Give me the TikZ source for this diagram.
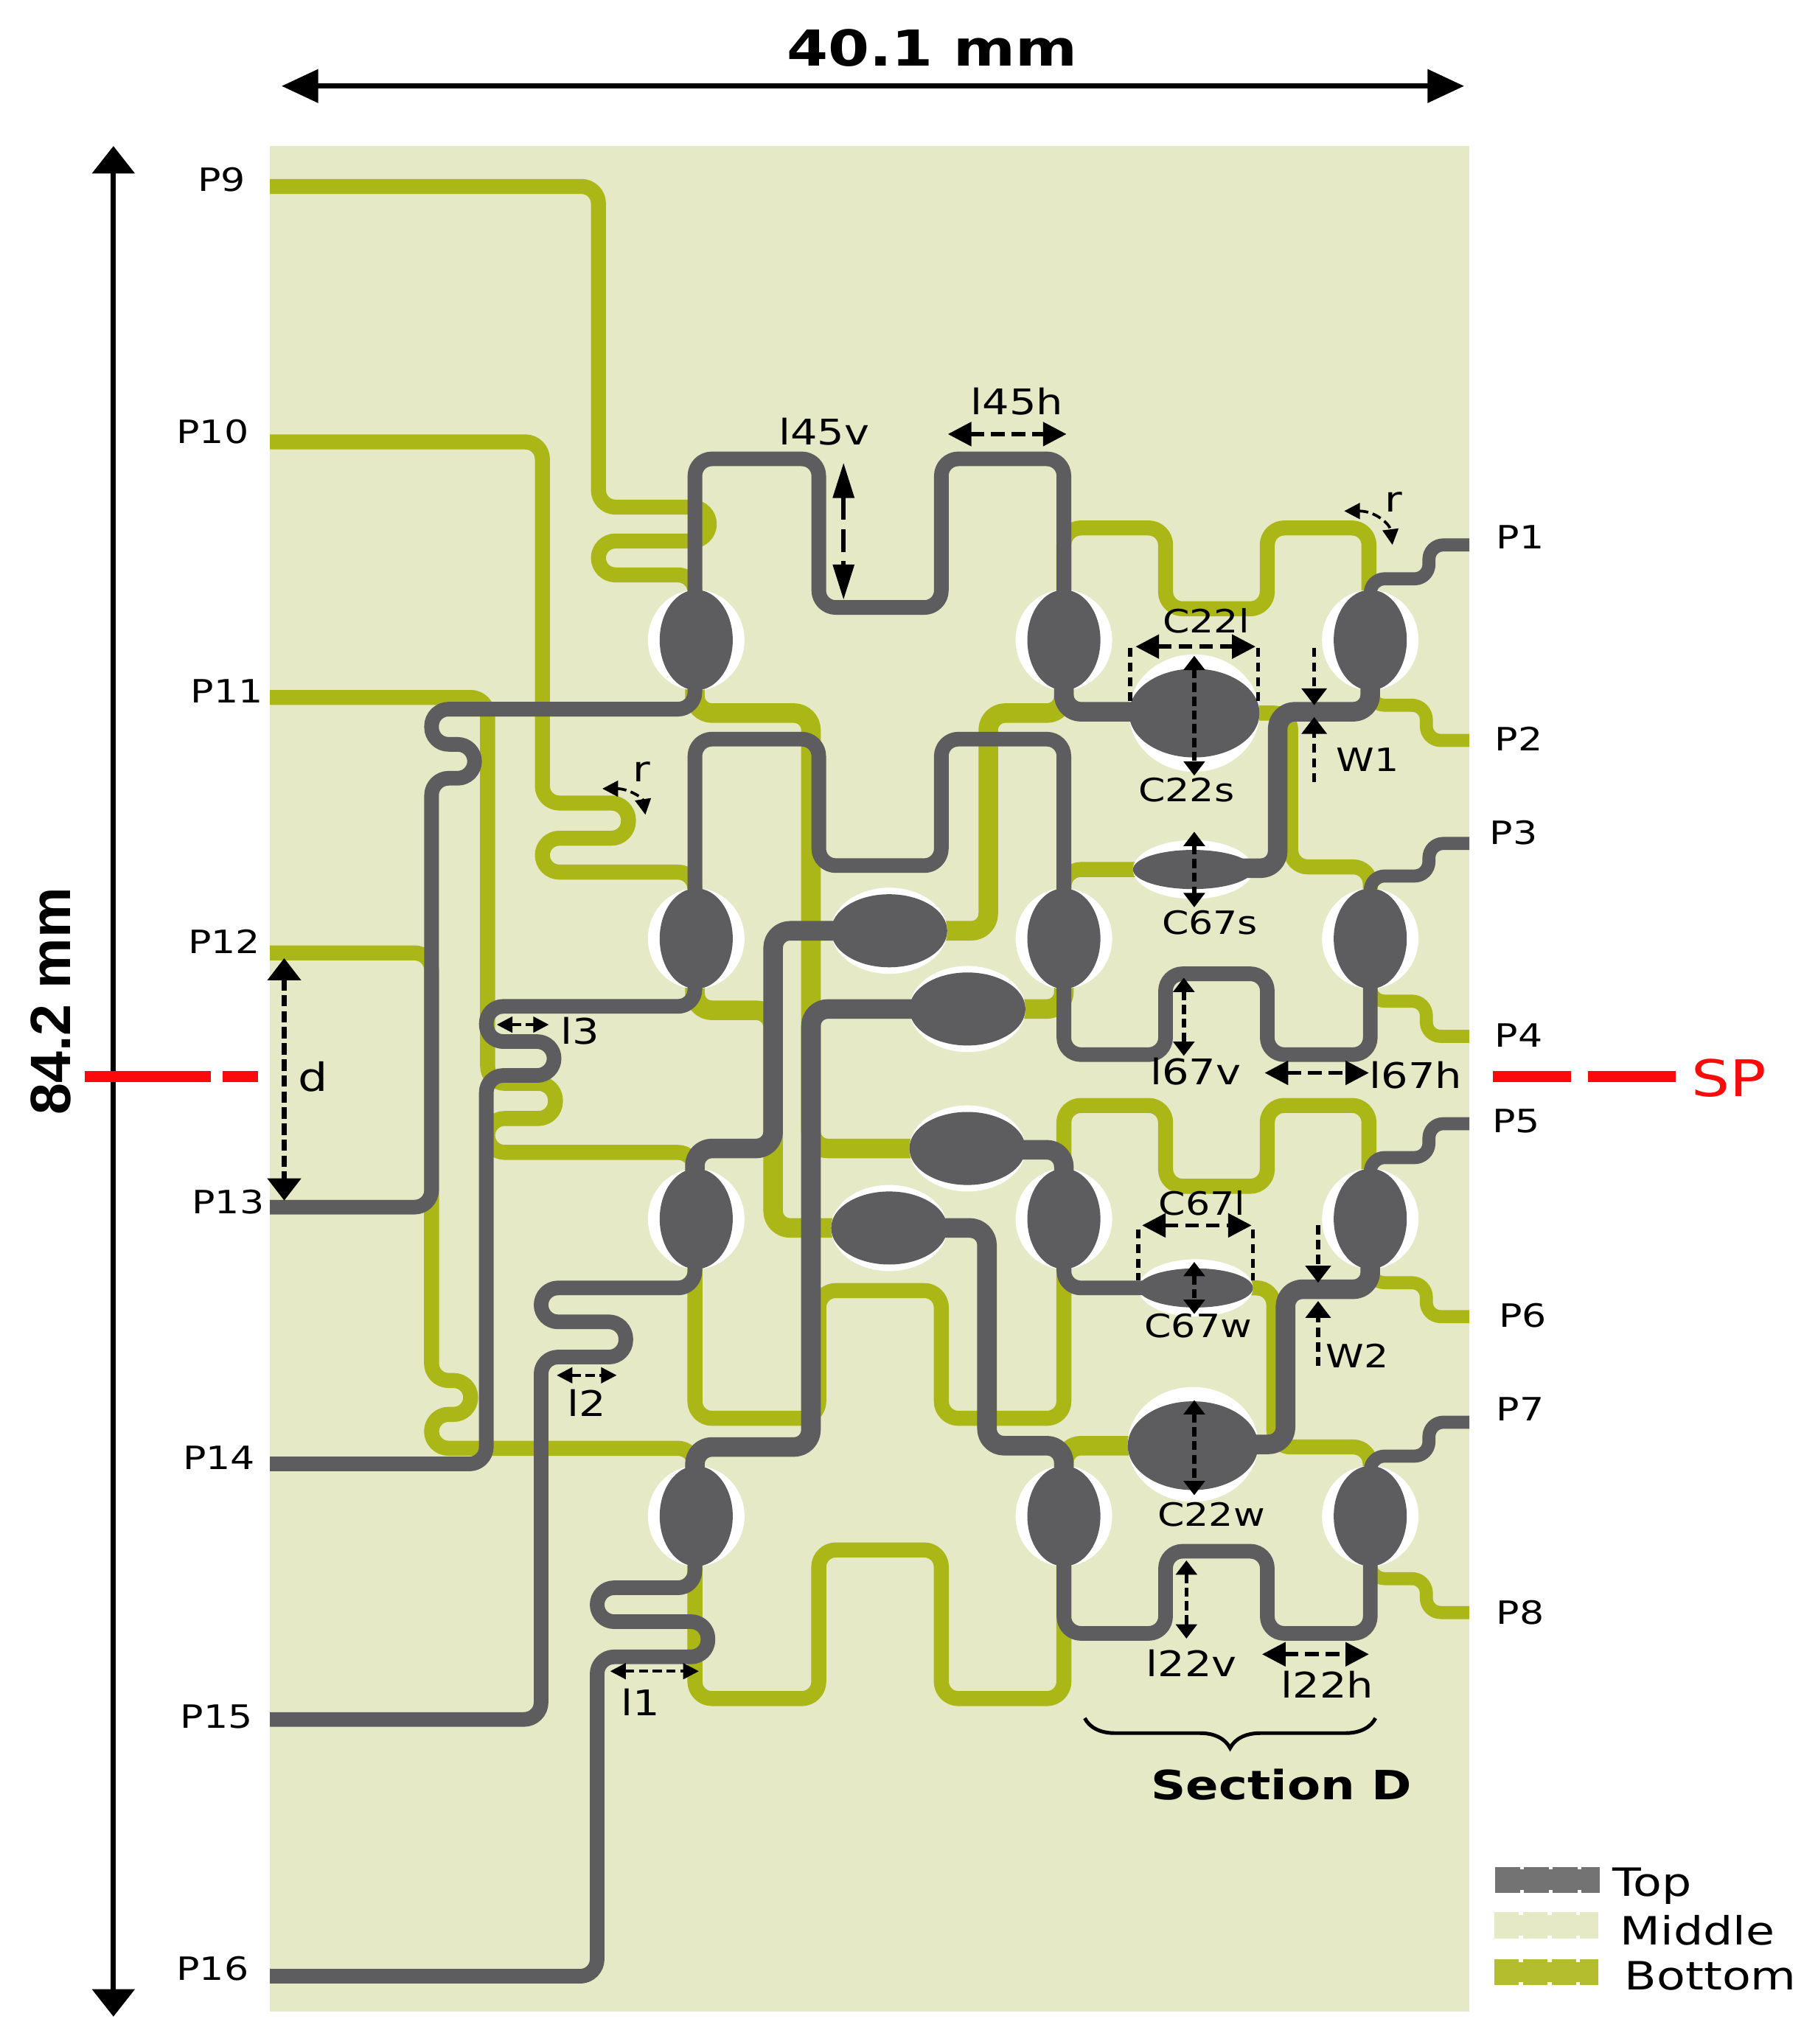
\documentclass[tikz,border=0pt]{standalone}
\usepackage{xcolor}
\usepackage{fontspec}
\setmainfont[FakeStretch=1.2]{DejaVu Sans}
\newfontfamily\sidefont{Liberation Sans}
\definecolor{substrategreen}{RGB}{229, 233, 197}
\definecolor{bottomolive}{RGB}{171, 182, 23}
\definecolor{topgrey}{RGB}{93, 93, 95}
\definecolor{signalred}{RGB}{250, 10, 10}
\usetikzlibrary{shapes.geometric, arrows.meta, decorations.pathreplacing}

\begin{document}
\begin{tikzpicture}[
    x=0.01cm, y=-0.01cm,
    botline/.style={draw=bottomolive, line width=0.115cm, rounded corners=0.13cm, line join=round},
    botwide/.style={botline, line width=0.15cm},
    topline/.style={draw=topgrey, line width=0.112cm, rounded corners=0.13cm, line join=round},
    topwide/.style={topline, line width=0.15cm},
    portline/.style={topline, line width=0.1cm, rounded corners=0.11cm},
    portbot/.style={botline, line width=0.1cm, rounded corners=0.11cm},
    slot/.style={ellipse, fill=white, inner sep=0pt, outer sep=0pt},
    patch/.style={ellipse, fill=topgrey, inner sep=0pt, outer sep=0pt},
    slotv/.style={slot, minimum width=0.74cm, minimum height=0.77cm},
    patchv/.style={patch, minimum width=0.56cm, minimum height=0.77cm},
    slotp/.style={slot, minimum width=0.89cm, minimum height=0.66cm},
    patchp/.style={patch, minimum width=0.89cm, minimum height=0.56cm},
    lbl/.style={inner sep=0pt, font=\fontsize{7}{8}\selectfont},
    lenlbl/.style={inner sep=0pt, font=\fontsize{7.7}{9}\selectfont},
    dimbig/.style={{Triangle[length=0.18cm,width=0.18cm]}-{Triangle[length=0.18cm,width=0.18cm]}, line width=0.9pt, dash pattern=on 3pt off 1.5pt},
    dimlong/.style={{Triangle[length=0.27cm,width=0.16cm]}-{Triangle[length=0.27cm,width=0.16cm]}, line width=0.9pt, dash pattern=on 5pt off 2pt},
    dimflat/.style={{Triangle[length=0.11cm,width=0.16cm]}-{Triangle[length=0.11cm,width=0.16cm]}, line width=0.9pt, dash pattern=on 2pt off 1pt},
    dimdist/.style={{Triangle[length=0.17cm,width=0.25cm]}-{Triangle[length=0.17cm,width=0.25cm]}, line width=1.15pt, dash pattern=on 2.5pt off 1pt},
    dimsmall/.style={{Triangle[length=0.12cm,width=0.12cm]}-{Triangle[length=0.12cm,width=0.12cm]}, line width=0.6pt, dash pattern=on 2pt off 1pt},
    dimone/.style={-{Triangle[length=0.13cm,width=0.19cm]}, line width=0.9pt, dash pattern=on 2pt off 1.2pt},
    extline/.style={line width=0.9pt, dash pattern=on 2pt off 1.2pt},
    outerh/.style={{Triangle[length=0.28cm,width=0.25cm]}-{Triangle[length=0.28cm,width=0.25cm]}, line width=1.1pt},
    outerv/.style={{Triangle[length=0.21cm,width=0.32cm]}-{Triangle[length=0.21cm,width=0.32cm]}, line width=1.1pt},
    splitline/.style={draw=signalred, line width=0.085cm},
    legendbar/.style={line width=0.2cm, dash pattern=on 0.19cm off 0.03cm},
    legendcore/.style={line width=0.155cm}
]
    \path[use as bounding box] (0,0) rectangle (1394,1568);
    \fill[substrategreen] (207,112) rectangle (1127,1543);

    \draw[botline] (207,143) -- (459,143) -- (459,389) -- (544,389) -- (544,415) -- (459,415) -- (459,441) -- (533,441) -- (533,470);
    \draw[botline] (207,339) -- (416,339) -- (416,616) -- (482,616) -- (482,643) -- (416,643) -- (416,669) -- (533,669) -- (533,700);
    \draw[botline] (207,535) -- (374,535) -- (374,831) -- (426,831) -- (426,858) -- (374,858) -- (374,884) -- (533,884) -- (533,915);
    \draw[botline] (207,731) -- (331,731) -- (331,1059) -- (361,1059) -- (361,1085) -- (331,1085) -- (331,1111) -- (533,1111) -- (533,1145);

    \draw[botwide] (533,520) -- (533,547) -- (622,547) -- (622,881) -- (710,881);
    \draw[botwide] (533,750) -- (533,775) -- (593,775) -- (593,942) -- (650,942);
    \draw[botwide] (710,714) -- (758,714) -- (758,547) -- (816,547) -- (816,520);
    \draw[botwide] (770,774) -- (816,774) -- (816,745);

    \draw[botline] (816,470) -- (816,405) -- (894,405) -- (894,467) -- (972,467) -- (972,405) -- (1050,405) -- (1050,470);
    \draw[botline] (950,547) -- (990,547) -- (990,665) -- (1051,665) -- (1051,700);
    \draw[botline] (890,667) -- (816,667) -- (816,700);
    \draw[botline] (816,900) -- (816,848) -- (894,848) -- (894,910) -- (972,910) -- (972,848) -- (1050,848) -- (1050,910);
    \draw[botline] (950,988) -- (977,988) -- (977,1110) -- (1051,1110) -- (1051,1145);
    \draw[botwide] (890,1109) -- (816,1109) -- (816,1145);
    \draw[botline] (816,960) -- (816,1088) -- (722,1088) -- (722,990) -- (628,990) -- (628,1088) -- (533,1088) -- (533,960);
    \draw[botline] (533,1190) -- (533,1303) -- (628,1303) -- (628,1189) -- (722,1189) -- (722,1303) -- (816,1303) -- (816,1190);

    \draw[portbot] (1051,520) -- (1051,541) -- (1094,541) -- (1094,568) -- (1127,568);
    \draw[portbot] (1051,750) -- (1051,768) -- (1094,768) -- (1094,795) -- (1127,795);
    \draw[portbot] (1051,965) -- (1051,984) -- (1094,984) -- (1094,1010) -- (1127,1010);
    \draw[portbot] (1051,1190) -- (1051,1211) -- (1094,1211) -- (1094,1237) -- (1127,1237);

    \node[slotv] (s1) at (534,491) {};
    \node[slotv] (s2) at (816,491) {};
    \node[slotv] (s3) at (1051,491) {};
    \node[slotv] (s4) at (534,720) {};
    \node[slotv] (s5) at (816,720) {};
    \node[slotv] (s6) at (1051,720) {};
    \node[slotv] (s7) at (534,935) {};
    \node[slotv] (s8) at (816,935) {};
    \node[slotv] (s9) at (1051,935) {};
    \node[slotv] (s10) at (534,1163) {};
    \node[slotv] (s11) at (816,1163) {};
    \node[slotv] (s12) at (1051,1163) {};
    \node[slotp] (sa) at (682,714) {};
    \node[slotp] (sb) at (742,774) {};
    \node[slotp] (sc) at (742,881) {};
    \node[slotp] (sd) at (682,942) {};
    \node[slot, minimum width=1cm, minimum height=0.9cm] (s22s) at (916,547) {};
    \node[slot, minimum width=0.92cm, minimum height=0.45cm] (s67s) at (915,667) {};
    \node[slot, minimum width=0.88cm, minimum height=0.44cm] (s67w) at (917,988) {};
    \node[slot, minimum width=1cm, minimum height=0.88cm] (s22w) at (915,1108) {};

    \draw[topline] (533,470) -- (533,352) -- (628,352) -- (628,466) -- (722,466) -- (722,352) -- (816,352) -- (816,470);
    \draw[topline] (533,700) -- (533,567) -- (628,567) -- (628,664) -- (722,664) -- (722,567) -- (816,567) -- (816,700);
    \draw[topline] (816,745) -- (816,809) -- (894,809) -- (894,747) -- (972,747) -- (972,809) -- (1051,809) -- (1051,745);
    \draw[topline] (816,1190) -- (816,1253) -- (894,1253) -- (894,1190) -- (972,1190) -- (972,1253) -- (1051,1253) -- (1051,1190);

    \draw[topline] (533,520) -- (533,544) -- (331,544) -- (331,571) -- (364,571) -- (364,597) -- (331,597) -- (331,926) -- (207,926);
    \draw[topline] (207,1123) -- (373,1123) -- (373,825) -- (425,825) -- (425,799) -- (373,799) -- (373,772) -- (533,772) -- (533,745);
    \draw[topline] (207,1319) -- (415,1319) -- (415,1041) -- (480,1041) -- (480,1014) -- (415,1014) -- (415,988) -- (533,988) -- (533,965);
    \draw[topline] (207,1516) -- (458,1516) -- (458,1271) -- (543,1271) -- (543,1244) -- (458,1244) -- (458,1218) -- (533,1218) -- (533,1190);

    \draw[topwide] (533,910) -- (533,881) -- (593,881) -- (593,714) -- (650,714);
    \draw[topwide] (710,774) -- (622,774) -- (622,1110) -- (533,1110) -- (533,1140);
    \draw[topwide] (780,882) -- (816,882) -- (816,910);
    \draw[topwide] (715,942) -- (757,942) -- (757,1109) -- (816,1109) -- (816,1135);
    \draw[topwide] (816,520) -- (816,546) -- (880,546);
    \draw[topwide] (1051,520) -- (1051,546) -- (980,546) -- (980,666) -- (945,666);
    \draw[topline] (816,965) -- (816,988) -- (890,988);
    \draw[topwide] (1051,965) -- (1051,989) -- (986,989) -- (986,1108) -- (950,1108);

    \draw[portline] (1051,470) -- (1051,444) -- (1096,444) -- (1096,418) -- (1127,418);
    \draw[portline] (1051,700) -- (1051,672) -- (1096,672) -- (1096,647) -- (1127,647);
    \draw[portline] (1051,915) -- (1051,888) -- (1096,888) -- (1096,862) -- (1127,862);
    \draw[portline] (1051,1140) -- (1051,1117) -- (1096,1117) -- (1096,1091) -- (1127,1091);

    \node[patchv] (k1) at (534,491) {};
    \node[patchv] (k2) at (816,491) {};
    \node[patchv] (k3) at (1051,491) {};
    \node[patchv] (k4) at (534,720) {};
    \node[patchv] (k5) at (816,720) {};
    \node[patchv] (k6) at (1051,720) {};
    \node[patchv] (k7) at (534,935) {};
    \node[patchv] (k8) at (816,935) {};
    \node[patchv] (k9) at (1051,935) {};
    \node[patchv] (k10) at (534,1163) {};
    \node[patchv] (k11) at (816,1163) {};
    \node[patchv] (k12) at (1051,1163) {};
    \node[patchp] (pa) at (682,714) {};
    \node[patchp] (pb) at (742,774) {};
    \node[patchp] (pc) at (742,881) {};
    \node[patchp] (pd) at (682,942) {};
    \node[patch, minimum width=1cm, minimum height=0.68cm] (c22s) at (916,547) {};
    \node[patch, minimum width=0.92cm, minimum height=0.3cm] (c67s) at (915,667) {};
    \node[patch, minimum width=0.88cm, minimum height=0.3cm] (c67w) at (917,988) {};
    \node[patch, minimum width=1cm, minimum height=0.68cm] (c22w) at (915,1109) {};

    \draw[outerh] (216,66) -- (1123,66);
    \draw[outerv] (87,112) -- (87,1547);
    \draw[splitline] (65,826) -- (162,826);
    \draw[splitline] (171,826) -- (198,826);
    \draw[splitline] (1145,826) -- (1205,826);
    \draw[splitline] (1218,826) -- (1285,826);

    \draw[dimdist] (218,735) -- (218,921);
    \draw[dimlong] (647,355) -- (647,460);
    \draw[dimbig] (727,333) -- (818,333);
    \draw[dimbig] (871,496) -- (963,496);
    \draw[dimflat] (916,503) -- (916,595);
    \draw[dimflat] (916,638) -- (916,696);
    \draw[dimflat] (908,750) -- (908,810);
    \draw[dimbig] (970,823) -- (1050,823);
    \draw[dimbig] (876,940) -- (960,940);
    \draw[dimflat] (916,968) -- (916,1008);
    \draw[dimflat] (916,1074) -- (916,1147);
    \draw[dimflat] (910,1197) -- (910,1257);
    \draw[dimbig] (968,1269) -- (1050,1269);
    \draw[dimsmall] (381,786) -- (421,786);
    \draw[dimsmall] (427,1055) -- (473,1055);
    \draw[dimsmall] (468,1282) -- (536,1282);
    \draw[dimone] (1008,497) -- (1008,541);
    \draw[dimone] (1008,600) -- (1008,550);
    \draw[dimone] (1011,940) -- (1011,984);
    \draw[dimone] (1011,1048) -- (1011,998);
    \draw[extline] (867,497) -- (867,540);
    \draw[extline] (965,497) -- (965,540);
    \draw[extline] (873,943) -- (873,982);
    \draw[extline] (961,943) -- (961,982);
    \draw[dimsmall] (1031,392) .. controls (1055,392) and (1066,402) .. (1068,418);
    \draw[dimsmall] (462,605) .. controls (482,605) and (493,612) .. (495,625);

    \draw[line width=0.8pt, decorate, decoration={brace, mirror, amplitude=0.23cm}] (832,1318) -- (1055,1318);

    \node[font=\fontsize{10.8}{12}\selectfont\bfseries] (width) at (715,37) {40.1 mm};
    \node[font=\fontsize{12.4}{14}\selectfont\sidefont\bfseries, rotate=90] (length) at (39,768) {84.2 mm};
    \node[font=\fontsize{8.8}{11}\selectfont\bfseries] (sectd) at (983,1369) {Section D};
    \node[font=\fontsize{11}{12}\selectfont, text=signalred] (sp) at (1326,827) {SP};

    \node[lbl] (p9) at (170,138) {P9};
    \node[lbl] (p10) at (163,331) {P10};
    \node[lbl] (p11) at (174,530) {P11};
    \node[lbl] (p12) at (172,722) {P12};
    \node[lbl] (p13) at (175,922) {P13};
    \node[lbl] (p14) at (168,1118) {P14};
    \node[lbl] (p15) at (166,1317) {P15};
    \node[lbl] (p16) at (163,1510) {P16};
    \node[lbl] (p1) at (1166,412) {P1};
    \node[lbl] (p2) at (1165,567) {P2};
    \node[lbl] (p3) at (1161,639) {P3};
    \node[lbl] (p4) at (1165,794) {P4};
    \node[lbl] (p5) at (1163,860) {P5};
    \node[lbl] (p6) at (1168,1009) {P6};
    \node[lbl] (p7) at (1166,1081) {P7};
    \node[lbl] (p8) at (1166,1237) {P8};

    \node[lenlbl] (l45v) at (632,331) {l45v};
    \node[lenlbl] (l45h) at (780,308) {l45h};
    \node[lbl] (c22l) at (925,476) {C22l};
    \node[lbl] (c22sl) at (910,606) {C22s};
    \node[lbl] (w1) at (1049,583) {W1};
    \node[lenlbl] (r1) at (1069,385) {r};
    \node[lenlbl] (r2) at (492,592) {r};
    \node[lbl] (c67sl) at (928,708) {C67s};
    \node[lenlbl] (l67v) at (917,822) {l67v};
    \node[lenlbl] (l67h) at (1086,825) {l67h};
    \node[lenlbl] (l3) at (445,791) {l3};
    \node[lbl, font=\fontsize{8.5}{9}\selectfont] (dd) at (240,826) {d};
    \node[lbl] (c67l) at (922,923) {C67l};
    \node[lbl] (c67wl) at (919,1017) {C67w};
    \node[lbl] (w2) at (1041,1040) {W2};
    \node[lenlbl] (l2) at (450,1076) {l2};
    \node[lbl] (c22wl) at (929,1162) {C22w};
    \node[lenlbl] (l22v) at (914,1276) {l22v};
    \node[lenlbl] (l22h) at (1018,1292) {l22h};
    \node[lenlbl] (l1) at (491,1306) {l1};

    \draw[legendbar, draw=black!55] (1147,1442) -- (1227,1442);
    \draw[legendcore, draw=black!55] (1147,1442) -- (1227,1442);
    \draw[legendbar, draw=substrategreen] (1146,1477) -- (1226,1477);
    \draw[legendcore, draw=substrategreen] (1146,1477) -- (1226,1477);
    \draw[legendbar, draw=bottomolive!90!white] (1146,1513) -- (1226,1513);
    \draw[legendcore, draw=bottomolive!90!white] (1146,1513) -- (1226,1513);
    \node[lbl, font=\fontsize{8.5}{10}\selectfont] (ltop) at (1267,1447) {Top};
    \node[lbl, font=\fontsize{8.5}{10}\selectfont] (lmid) at (1302,1481) {Middle};
    \node[lbl, font=\fontsize{8.5}{10}\selectfont] (lbot) at (1312,1516) {Bottom};
\end{tikzpicture}
\end{document}
